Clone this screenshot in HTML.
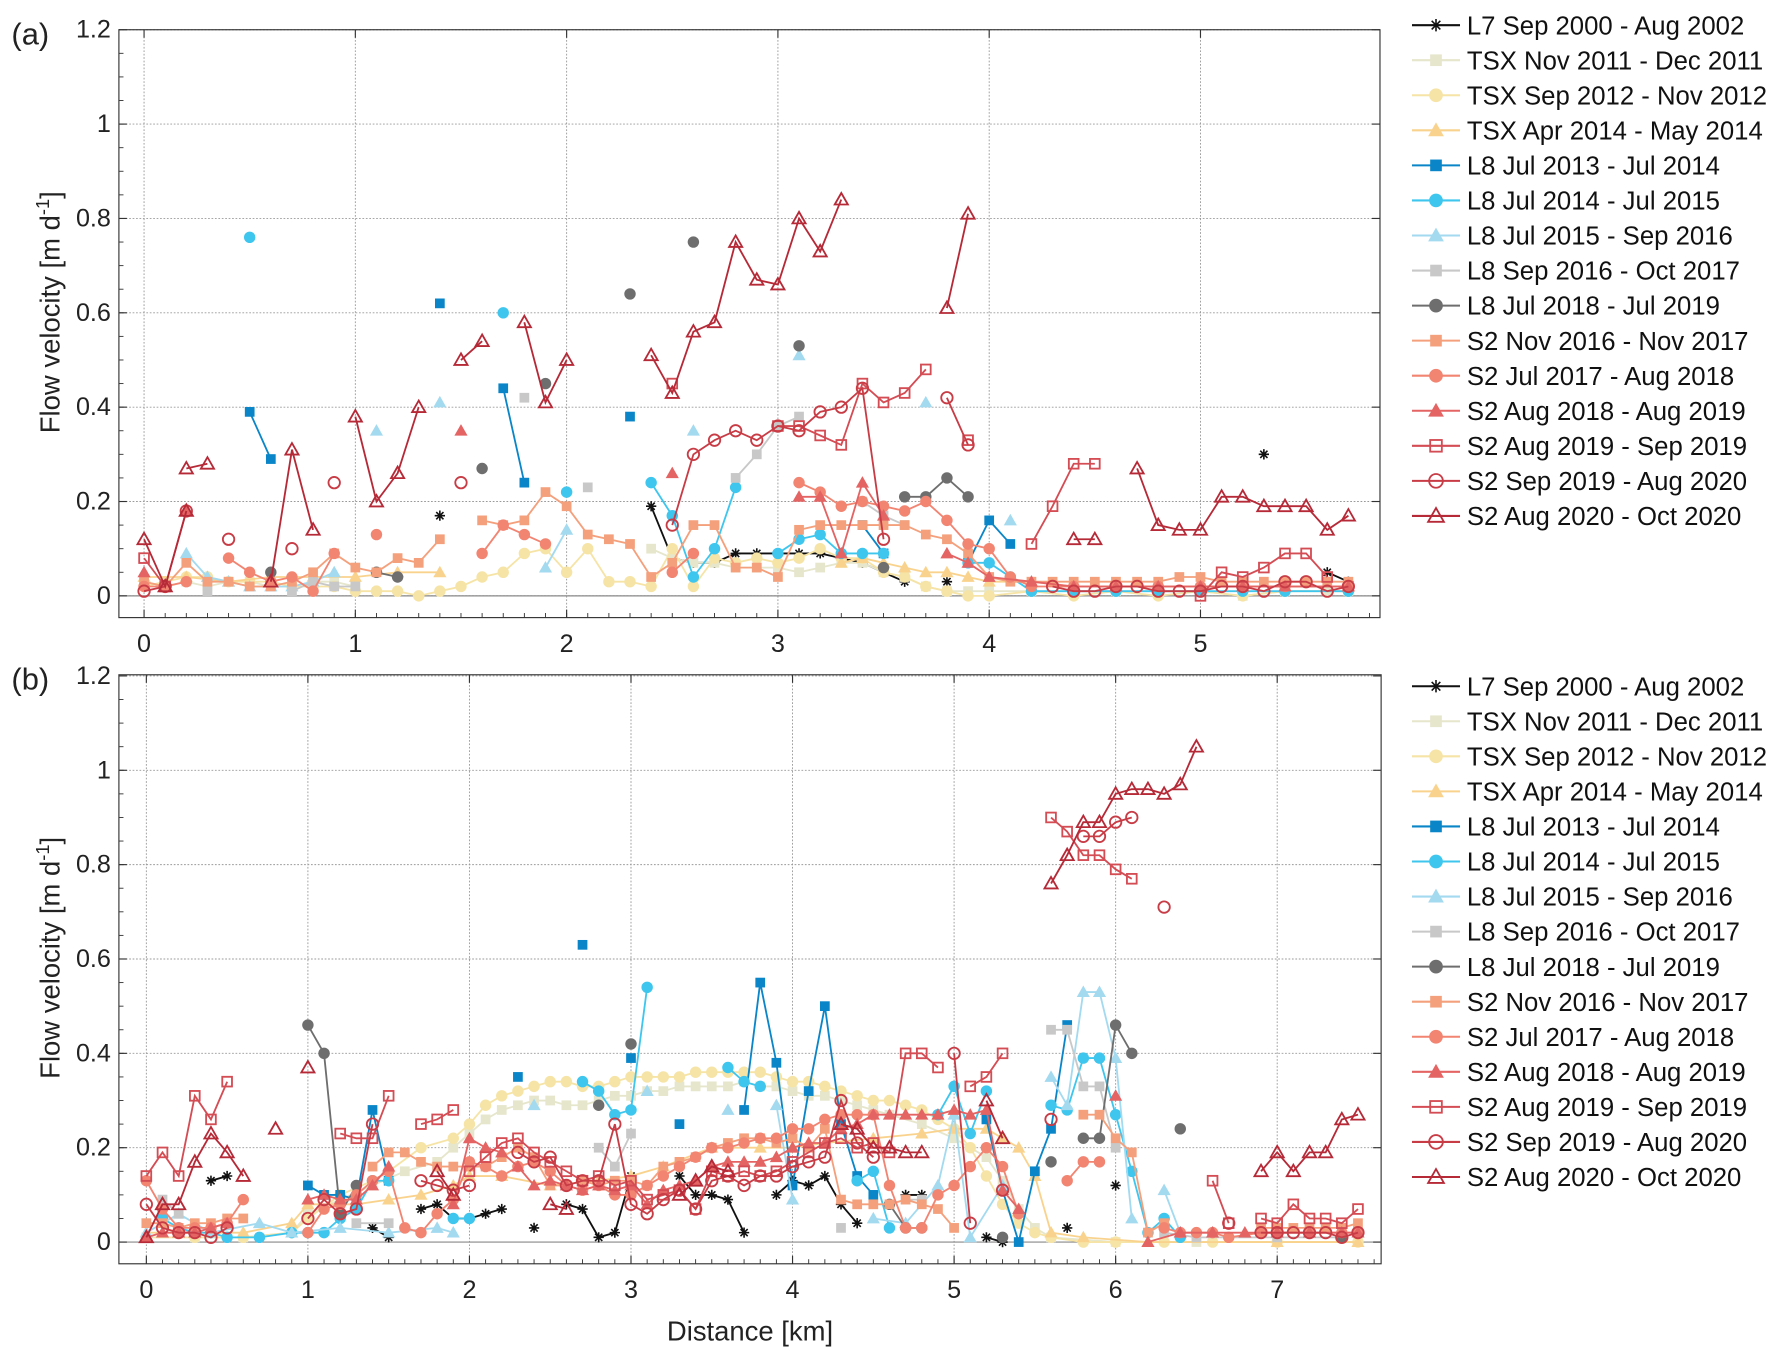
<!DOCTYPE html>
<html><head><meta charset="utf-8"><style>
html,body{margin:0;padding:0;background:#fff;}
svg{display:block;font-family:"Liberation Sans",Arial,sans-serif;}
</style></head><body>
<svg id="chart" width="1787" height="1361" viewBox="0 0 1563 1190" preserveAspectRatio="none" xmlns="http://www.w3.org/2000/svg"></svg>
<script>
// ---------- data (x km, y m/d; null = gap) ----------
const seriesNames = ["L7 Sep 2000 - Aug 2002","TSX Nov 2011 - Dec 2011","TSX Sep 2012 - Nov 2012","TSX Apr 2014 - May 2014","L8 Jul 2013 - Jul 2014","L8 Jul 2014 - Jul 2015","L8 Jul 2015 - Sep 2016","L8 Sep 2016 - Oct 2017","L8 Jul 2018 - Jul 2019","S2 Nov 2016 - Nov 2017","S2 Jul 2017 - Aug 2018","S2 Aug 2018 - Aug 2019","S2 Aug 2019 - Sep 2019","S2 Sep 2019 - Aug 2020","S2 Aug 2020 - Oct 2020"];
const seriesColors = ["#111111","#e6e6cc","#f6e4a6","#f9d38e","#0a86c8","#3ec6ee","#a3daf0","#c8c8c8","#6e6e6e","#f4a07c","#f28472","#e46464","#d44c54","#c83c46","#b62a38"];
const seriesMarkers = ["star","sq","ci","tr","sq","ci","tr","sq","ci","sq","ci","tr","osq","oci","otr"];

// Panel (a)
const a_L7 = [[1.4,0.17],null,[2.4,0.19],[2.5,0.08],[2.6,0.07],[2.7,0.07],[2.8,0.09],[2.9,0.09],[3.0,0.09],[3.1,0.09],[3.2,0.09],[3.3,0.08],[3.4,0.07],[3.5,0.05],[3.6,0.03],null,[3.8,0.03],null,[5.3,0.30],null,[5.6,0.05],[5.7,0.03]];
const a_TSX11 = [[0,0.03],[0.1,0.02],[0.2,0.03],[0.3,0.02],[0.4,0.03],[0.5,0.03],[0.6,0.02],[0.7,0.02],[0.8,0.03],[0.9,0.03],[1.0,0.02],null,[2.4,0.1],[2.5,0.08],[2.6,0.07],[2.7,0.07],[2.8,0.06],[2.9,0.06],[3.0,0.06],[3.1,0.05],[3.2,0.06],[3.3,0.07],[3.4,0.07],[3.5,0.05],[3.6,0.04],[3.7,0.02],[3.8,0.01],[3.9,0.01],[4.0,0.01],[4.2,0.01],[4.4,0.01],[4.6,0.01],[4.8,0.01],[5.0,0.01],[5.2,0.0],[5.4,0.01],[5.6,0.01],[5.7,0.01]];
const a_TSX12 = [[0,0.02],[0.1,0.03],[0.2,0.04],[0.3,0.04],[0.4,0.03],[0.5,0.03],[0.6,0.03],[0.7,0.02],[0.8,0.02],[0.9,0.02],[1.0,0.01],[1.1,0.01],[1.2,0.01],[1.3,0.0],[1.4,0.01],[1.5,0.02],[1.6,0.04],[1.7,0.05],[1.8,0.09],[1.9,0.10],[2.0,0.05],[2.1,0.10],[2.2,0.03],[2.3,0.03],[2.4,0.02],[2.5,0.10],[2.6,0.02],[2.7,0.08],[2.8,0.07],[2.9,0.08],[3.0,0.07],[3.1,0.08],[3.2,0.10],[3.3,0.08],[3.4,0.08],[3.5,0.05],[3.6,0.04],[3.7,0.02],[3.8,0.01],[3.9,0.0],[4.0,0.0],[4.2,0.01],[4.4,0.0],[4.6,0.01],[4.8,0.0],[5.0,0.01],[5.2,0.0],[5.4,0.01],[5.7,0.01]];
const a_TSX14 = [[0,0.04],[0.2,0.04],[0.4,0.03],[0.6,0.04],[0.8,0.04],[1.0,0.04],[1.2,0.05],[1.4,0.05],null,[3.3,0.07],[3.4,0.08],[3.5,0.07],[3.6,0.06],[3.7,0.05],[3.8,0.05],[3.9,0.04],[4.0,0.03],[4.2,0.03],[4.4,0.02],[4.6,0.02],[4.8,0.02],[5.0,0.02],[5.2,0.02],[5.4,0.02],[5.7,0.02]];
const a_L8_13 = [[0.5,0.39],[0.6,0.29],null,[1.4,0.62],null,[1.7,0.44],[1.8,0.24],null,[2.3,0.38],null,[3.4,0.15],[3.5,0.09],null,[3.9,0.07],[4.0,0.16],[4.1,0.11]];
const a_L8_14 = [[0.5,0.76],null,[1.7,0.60],null,[2.0,0.22],null,[2.4,0.24],[2.5,0.17],[2.6,0.04],[2.7,0.10],[2.8,0.23],null,[3.0,0.09],[3.1,0.12],[3.2,0.13],[3.3,0.09],[3.4,0.09],[3.5,0.09],null,[3.9,0.07],[4.0,0.07],[4.1,0.04],[4.2,0.01],[4.4,0.01],[4.6,0.01],[4.8,0.01],[5.0,0.01],[5.2,0.01],[5.4,0.01],[5.7,0.01]];
const a_L8_15 = [[0.2,0.09],[0.3,0.04],[0.4,0.03],[0.5,0.02],[0.6,0.02],[0.7,0.02],[0.8,0.03],[0.9,0.05],null,[1.1,0.35],null,[1.4,0.41],null,[1.9,0.06],[2.0,0.14],null,[2.6,0.35],null,[3.1,0.51],null,[3.7,0.41],null,[4.1,0.16]];
const a_L8_16 = [[0.3,0.01],null,[0.7,0.01],[0.8,0.03],[0.9,0.02],[1.0,0.02],null,[1.8,0.42],null,[2.1,0.23],null,[2.8,0.25],[2.9,0.30],[3.0,0.36],[3.1,0.38],null,[3.4,0.20],[3.5,0.17],[3.6,0.15]];
const a_L8_18 = [[0.6,0.05],null,[1.1,0.05],[1.2,0.04],null,[1.6,0.27],null,[1.9,0.45],null,[2.3,0.64],null,[2.6,0.75],null,[3.1,0.53],null,[3.5,0.06],null,[3.6,0.21],[3.7,0.21],[3.8,0.25],[3.9,0.21]];
const a_S2_16 = [[0,0.03],[0.1,0.02],[0.2,0.07],[0.3,0.03],[0.4,0.03],[0.5,0.02],[0.6,0.02],[0.7,0.03],[0.8,0.05],[0.9,0.09],[1.0,0.06],[1.1,0.05],[1.2,0.08],[1.3,0.07],[1.4,0.12],null,[1.6,0.16],[1.7,0.15],[1.8,0.16],[1.9,0.22],[2.0,0.19],[2.1,0.13],[2.2,0.12],[2.3,0.11],[2.4,0.04],[2.5,0.07],[2.6,0.15],[2.7,0.15],[2.8,0.06],[2.9,0.06],[3.0,0.04],[3.1,0.14],[3.2,0.15],[3.3,0.15],[3.4,0.15],[3.5,0.15],[3.6,0.15],[3.7,0.13],[3.8,0.12],[3.9,0.09],[4.0,0.04],[4.1,0.03],[4.2,0.03],[4.3,0.03],[4.4,0.03],[4.5,0.03],[4.6,0.03],[4.7,0.03],[4.8,0.03],[4.9,0.04],[5.0,0.04],[5.1,0.03],[5.2,0.03],[5.3,0.03],[5.4,0.03],[5.5,0.03],[5.6,0.03],[5.7,0.03]];
const a_S2_17 = [[0,0.02],[0.1,0.02],[0.2,0.03],null,[0.4,0.08],[0.5,0.05],[0.6,0.03],[0.7,0.04],[0.8,0.01],[0.9,0.09],null,[1.1,0.13],null,[1.6,0.09],[1.7,0.15],[1.8,0.13],[1.9,0.11],null,[2.5,0.05],[2.6,0.09],null,[3.1,0.24],[3.2,0.22],[3.3,0.19],[3.4,0.20],[3.5,0.19],[3.6,0.18],[3.7,0.20],[3.8,0.16],[3.9,0.11],[4.0,0.10],[4.1,0.04],[4.2,0.02],[4.4,0.02],[4.6,0.02],[4.8,0.02],[5.0,0.02],[5.2,0.02],[5.4,0.02],[5.7,0.02]];
const a_S2_18 = [[0,0.05],null,[0.2,0.18],null,[1.5,0.35],null,[2.5,0.26],null,[3.1,0.21],[3.2,0.21],[3.3,0.09],[3.4,0.24],[3.5,0.17],null,[3.8,0.09],[3.9,0.07],[4.0,0.04],[4.2,0.03],[4.4,0.02],[4.6,0.02],[4.8,0.02],[5.0,0.02],[5.2,0.02],[5.4,0.02],[5.7,0.02]];
const a_S2_19a = [[0,0.08],[0.1,0.02],null,[2.5,0.45],null,[3.0,0.36],[3.1,0.36],[3.2,0.34],[3.3,0.32],[3.4,0.45],[3.5,0.41],[3.6,0.43],[3.7,0.48],null,[3.9,0.33],null,[4.2,0.11],[4.3,0.19],[4.4,0.28],[4.5,0.28],null,[5.0,0.0],[5.1,0.05],[5.2,0.04],[5.3,0.06],[5.4,0.09],[5.5,0.09],[5.6,0.04]];
const a_S2_19b = [[0,0.01],[0.1,0.02],[0.2,0.18],null,[0.4,0.12],null,[0.7,0.10],null,[0.9,0.24],null,[1.5,0.24],null,[2.5,0.15],[2.6,0.30],[2.7,0.33],[2.8,0.35],[2.9,0.33],[3.0,0.36],[3.1,0.35],[3.2,0.39],[3.3,0.40],[3.4,0.44],[3.5,0.12],null,[3.8,0.42],[3.9,0.32],null,[4.3,0.02],[4.4,0.01],[4.5,0.01],[4.6,0.02],[4.7,0.02],[4.8,0.01],[4.9,0.01],[5.0,0.01],[5.1,0.02],[5.2,0.02],[5.3,0.01],[5.4,0.03],[5.5,0.03],[5.6,0.01],[5.7,0.02]];
const a_S2_20 = [[0,0.12],[0.1,0.02],[0.2,0.18],null,[0.2,0.27],[0.3,0.28],null,[0.6,0.03],[0.7,0.31],[0.8,0.14],null,[1.0,0.38],[1.1,0.20],[1.2,0.26],[1.3,0.40],null,[1.5,0.50],[1.6,0.54],null,[1.8,0.58],[1.9,0.41],[2.0,0.50],null,[2.4,0.51],[2.5,0.43],[2.6,0.56],[2.7,0.58],[2.8,0.75],[2.9,0.67],[3.0,0.66],[3.1,0.80],[3.2,0.73],[3.3,0.84],null,[3.8,0.61],[3.9,0.81],null,[4.4,0.12],[4.5,0.12],null,[4.7,0.27],[4.8,0.15],[4.9,0.14],[5.0,0.14],[5.1,0.21],[5.2,0.21],[5.3,0.19],[5.4,0.19],[5.5,0.19],[5.6,0.14],[5.7,0.17]];

// Panel (b)
const b_L7 = [[0.4,0.13],[0.5,0.14],null,[1.4,0.03],[1.5,0.01],null,[1.7,0.07],[1.8,0.08],[1.9,0.05],[2.0,0.05],[2.1,0.06],[2.2,0.07],null,[2.4,0.03],null,[2.6,0.08],[2.7,0.07],[2.8,0.01],[2.9,0.02],[3.0,0.14],null,[3.3,0.14],[3.4,0.10],[3.5,0.10],[3.6,0.09],[3.7,0.02],null,[3.9,0.10],[4.0,0.13],[4.1,0.12],[4.2,0.14],[4.3,0.08],[4.4,0.04],null,[4.7,0.10],[4.8,0.10],null,[5.2,0.01],[5.3,0.0],null,[5.7,0.03],null,[6.0,0.12]];
const b_TSX11 = [[0,0.01],[0.3,0.01],[0.6,0.01],[0.9,0.02],[1.0,0.06],[1.2,0.09],[1.4,0.12],[1.6,0.15],[1.8,0.17],[1.9,0.2],[2.0,0.23],[2.1,0.26],[2.2,0.28],[2.3,0.29],[2.4,0.3],[2.5,0.3],[2.6,0.29],[2.7,0.29],[2.8,0.3],[2.9,0.31],[3.0,0.31],[3.1,0.32],[3.2,0.32],[3.3,0.33],[3.4,0.33],[3.5,0.33],[3.6,0.33],[3.7,0.34],[3.8,0.33],[3.9,0.33],[4.0,0.32],[4.1,0.31],[4.2,0.31],[4.3,0.3],[4.4,0.29],[4.5,0.28],[4.6,0.27],[4.8,0.25],[5.0,0.22],[5.2,0.18],[5.3,0.13],[5.4,0.07],[5.5,0.03],[5.6,0.01],[6.0,0.0],[6.5,0.0],[7.0,0.0],[7.5,0.0]];
const b_TSX12 = [[0,0.01],[0.3,0.01],[0.6,0.01],[0.9,0.02],[1.0,0.05],[1.2,0.1],[1.4,0.13],[1.5,0.15],[1.7,0.20],[1.9,0.22],[2.0,0.25],[2.1,0.29],[2.2,0.31],[2.3,0.32],[2.4,0.33],[2.5,0.34],[2.6,0.34],[2.7,0.33],[2.8,0.33],[2.9,0.34],[3.0,0.35],[3.1,0.35],[3.2,0.35],[3.3,0.35],[3.4,0.36],[3.5,0.36],[3.6,0.36],[3.7,0.36],[3.8,0.36],[3.9,0.35],[4.0,0.34],[4.1,0.34],[4.2,0.33],[4.3,0.32],[4.4,0.31],[4.5,0.30],[4.6,0.30],[4.7,0.29],[4.8,0.28],[4.9,0.26],[5.0,0.24],[5.1,0.20],[5.2,0.14],[5.3,0.08],[5.4,0.04],[5.5,0.02],[5.6,0.01],[5.8,0.0],[6.0,0.0],[6.3,0.0],[6.6,0.0],[7.0,0.0],[7.5,0.0]];
const b_TSX14 = [[0,0.02],[0.3,0.02],[0.6,0.02],[0.9,0.04],[1.0,0.08],[1.3,0.08],[1.5,0.09],[1.7,0.10],[1.9,0.12],[2.0,0.14],[2.2,0.14],[2.5,0.12],[2.8,0.13],[3.0,0.14],[3.2,0.16],[3.5,0.20],[3.8,0.20],[4.0,0.20],[4.2,0.21],[4.5,0.22],[4.8,0.23],[5.0,0.24],[5.2,0.24],[5.3,0.22],[5.4,0.20],[5.5,0.14],[5.6,0.02],[5.8,0.01],[6.2,0.0],[7.0,0.0],[7.5,0.0]];
const b_L8_13 = [[1.0,0.12],[1.1,0.10],[1.2,0.10],[1.3,0.09],[1.4,0.28],[1.5,0.13],null,[2.3,0.35],null,[2.7,0.63],null,[3.0,0.39],null,[3.3,0.25],null,[3.7,0.28],[3.8,0.55],[3.9,0.38],[4.0,0.12],[4.1,0.32],[4.2,0.50],[4.3,0.25],[4.4,0.14],[4.5,0.10],null,[5.2,0.26],[5.3,0.11],[5.4,0.0],[5.5,0.15],[5.6,0.24],[5.7,0.46]];
const b_L8_14 = [[0.1,0.05],[0.2,0.03],[0.3,0.02],[0.4,0.02],[0.5,0.01],[0.7,0.01],[0.9,0.02],[1.0,0.02],[1.1,0.02],[1.2,0.05],[1.3,0.07],[1.4,0.13],[1.5,0.13],null,[1.9,0.05],[2.0,0.05],null,[2.7,0.34],[2.8,0.32],[2.9,0.27],[3.0,0.28],[3.1,0.54],null,[3.6,0.37],[3.7,0.34],[3.8,0.33],null,[4.4,0.13],[4.5,0.15],[4.6,0.03],null,[4.9,0.27],[5.0,0.33],[5.1,0.23],[5.2,0.32],null,[5.6,0.29],[5.7,0.28],[5.8,0.39],[5.9,0.39],[6.0,0.27],[6.1,0.15],[6.2,0.02],[6.3,0.05],[6.4,0.01]];
const b_L8_15 = [[0,0.02],[0.2,0.06],[0.4,0.02],[0.7,0.04],[0.9,0.02],[1.2,0.03],[1.5,0.02],[1.8,0.03],[1.9,0.02],null,[2.4,0.29],null,[3.1,0.32],null,[3.6,0.28],null,[3.9,0.29],[4.0,0.09],null,[4.5,0.05],[4.7,0.04],[4.9,0.12],[5.0,0.27],[5.1,0.01],[5.3,0.12],null,[5.6,0.35],[5.7,0.29],[5.8,0.53],[5.9,0.53],[6.0,0.39],[6.1,0.05],null,[6.3,0.11],[6.4,0.02]];
const b_L8_16 = [[0.1,0.09],[0.2,0.06],null,[1.3,0.04],[1.5,0.04],null,[2.8,0.20],[2.9,0.16],[3.0,0.23],null,[4.3,0.03],null,[4.7,0.09],[4.8,0.09],null,[5.6,0.45],[5.7,0.45],[5.8,0.33],[5.9,0.33],[6.0,0.20],null,[6.3,0.02],[6.5,0.01],[7.0,0.01],[7.4,0.01]];
const b_L8_18 = [[1.0,0.46],[1.1,0.40],[1.2,0.06],[1.3,0.12],null,[2.8,0.29],null,[3.0,0.42],null,[4.6,0.08],[4.7,0.03],[4.8,0.03],null,[5.3,0.01],null,[5.6,0.17],null,[5.8,0.22],[5.9,0.22],[6.0,0.46],[6.1,0.40],null,[6.4,0.24],null,[7.4,0.01]];
const b_S2_16 = [[0,0.04],[0.1,0.04],[0.2,0.03],[0.3,0.04],[0.4,0.04],[0.5,0.05],[0.6,0.05],null,[1.4,0.16],[1.5,0.19],[1.6,0.19],[1.7,0.17],[1.8,0.16],[1.9,0.16],[2.0,0.16],[2.1,0.16],[2.2,0.18],[2.3,0.20],[2.4,0.18],[2.5,0.12],[2.6,0.12],[2.7,0.13],[2.8,0.12],[2.9,0.13],[3.0,0.13],[3.1,0.12],[3.2,0.16],[3.3,0.17],[3.4,0.18],[3.5,0.20],[3.6,0.21],[3.7,0.22],[3.8,0.22],[3.9,0.21],[4.0,0.22],[4.1,0.20],[4.2,0.24],[4.3,0.09],[4.4,0.08],[4.5,0.08],[4.6,0.08],[4.7,0.09],[4.8,0.08],[4.9,0.07],[5.0,0.03],null,[5.8,0.27],[5.9,0.27],[6.0,0.22],[6.1,0.19],[6.2,0.02],[6.3,0.04],null,[6.9,0.03],[7.0,0.03],[7.1,0.03],[7.2,0.03],[7.3,0.03],[7.4,0.03],[7.5,0.04]];
const b_S2_17 = [[0,0.13],[0.1,0.07],[0.2,0.03],[0.3,0.03],[0.4,0.03],[0.5,0.04],[0.6,0.09],null,[1.0,0.02],[1.1,0.07],[1.2,0.08],[1.3,0.1],[1.4,0.13],[1.5,0.15],[1.6,0.03],[1.7,0.02],[1.8,0.06],[1.9,0.09],[2.0,0.17],[2.1,0.16],[2.2,0.14],[2.3,0.16],[2.4,0.17],[2.5,0.15],[2.6,0.12],[2.7,0.11],[2.8,0.12],[2.9,0.10],[3.0,0.10],[3.1,0.12],[3.2,0.14],[3.3,0.16],[3.4,0.18],[3.5,0.20],[3.6,0.20],[3.7,0.21],[3.8,0.22],[3.9,0.22],[4.0,0.24],[4.1,0.24],[4.2,0.26],[4.3,0.27],[4.4,0.27],[4.5,0.27],[4.6,0.12],[4.7,0.03],[4.8,0.03],[4.9,0.10],[5.0,0.12],[5.1,0.16],[5.2,0.20],[5.3,0.16],[5.4,0.06],null,[5.7,0.13],[5.8,0.17],[5.9,0.17],null,[6.3,0.03],[6.4,0.02],[6.5,0.02],[6.6,0.02],[6.7,0.01],[6.9,0.02],[7.0,0.02],[7.2,0.02],[7.4,0.02],[7.5,0.02]];
const b_S2_18 = [[0,0.01],[0.1,0.02],[0.2,0.02],[0.3,0.02],[0.4,0.03],[0.5,0.04],null,[1.0,0.09],[1.1,0.1],[1.2,0.09],[1.3,0.09],[1.4,0.12],[1.5,0.16],null,[1.9,0.08],[2.0,0.22],[2.1,0.2],[2.2,0.19],[2.3,0.16],[2.4,0.12],[2.5,0.13],[2.6,0.12],[2.7,0.11],[2.8,0.12],[2.9,0.11],[3.0,0.12],[3.1,0.08],[3.2,0.11],[3.3,0.12],[3.4,0.13],[3.5,0.16],[3.6,0.17],[3.7,0.17],[3.8,0.17],[3.9,0.18],[4.0,0.2],[4.1,0.21],[4.2,0.21],[4.3,0.24],[4.4,0.25],[4.5,0.27],[4.6,0.27],[4.7,0.27],[4.8,0.27],[4.9,0.27],[5.0,0.28],[5.1,0.27],[5.2,0.28],[5.3,0.11],[5.4,0.07],null,[6.0,0.31],null,[6.2,0.0],[6.4,0.02],[6.6,0.02],[6.8,0.02],[7.0,0.02],[7.2,0.02],[7.4,0.02],[7.5,0.02]];
const b_S2_19a = [[0,0.14],[0.1,0.19],[0.2,0.14],[0.3,0.31],[0.4,0.26],[0.5,0.34],null,[1.2,0.23],[1.3,0.22],[1.4,0.22],[1.5,0.31],null,[1.7,0.25],[1.8,0.26],[1.9,0.28],null,[2.0,0.15],[2.1,0.18],[2.2,0.21],[2.3,0.22],[2.4,0.19],[2.5,0.17],[2.6,0.15],[2.7,0.13],[2.8,0.14],[2.9,0.12],[3.0,0.13],[3.1,0.09],[3.2,0.10],[3.3,0.11],[3.4,0.07],[3.5,0.15],[3.6,0.14],[3.7,0.15],[3.8,0.14],[3.9,0.15],[4.0,0.17],[4.1,0.19],[4.2,0.21],[4.3,0.22],[4.4,0.20],[4.5,0.21],[4.6,0.19],[4.7,0.40],[4.8,0.40],[4.9,0.37],null,[5.1,0.33],[5.2,0.35],[5.3,0.40],null,[5.6,0.90],[5.7,0.87],[5.8,0.82],[5.9,0.82],[6.0,0.79],[6.1,0.77],null,[6.6,0.13],[6.7,0.04],null,[6.9,0.05],[7.0,0.04],[7.1,0.08],[7.2,0.05],[7.3,0.05],[7.4,0.04],[7.5,0.07]];
const b_S2_19b = [[0,0.08],[0.1,0.03],[0.2,0.02],[0.3,0.02],[0.4,0.01],[0.5,0.03],null,[1.0,0.05],[1.1,0.09],[1.2,0.06],[1.3,0.07],[1.4,0.25],null,[1.7,0.13],[1.8,0.12],[1.9,0.11],[2.0,0.12],null,[2.3,0.19],[2.4,0.17],[2.5,0.18],[2.6,0.12],[2.7,0.13],[2.8,0.13],[2.9,0.25],[3.0,0.08],[3.1,0.06],[3.2,0.09],[3.3,0.11],[3.4,0.07],[3.5,0.13],[3.6,0.14],[3.7,0.12],[3.8,0.14],[3.9,0.14],[4.0,0.16],[4.1,0.17],[4.2,0.18],[4.3,0.30],[4.4,0.21],[4.5,0.18],null,[5.0,0.40],[5.1,0.04],null,[5.3,0.11],null,[5.6,0.26],null,[5.8,0.86],[5.9,0.86],[6.0,0.89],[6.1,0.90],null,[6.3,0.71],null,[6.7,0.04],null,[6.9,0.02],[7.0,0.02],[7.1,0.02],[7.2,0.02],[7.3,0.02],[7.4,0.01],[7.5,0.02]];
const b_S2_20 = [[0,0.01],[0.1,0.08],[0.2,0.08],[0.3,0.17],[0.4,0.23],[0.5,0.19],[0.6,0.14],null,[0.8,0.24],null,[1.0,0.37],null,[1.8,0.15],[1.9,0.10],null,[2.5,0.08],[2.6,0.07],null,[3.3,0.10],[3.4,0.13],[3.5,0.16],[3.6,0.15],null,[4.3,0.25],[4.4,0.24],[4.5,0.20],[4.6,0.20],[4.7,0.19],[4.8,0.19],null,[5.2,0.30],[5.3,0.22],null,[5.6,0.76],[5.7,0.82],[5.8,0.89],[5.9,0.89],[6.0,0.95],[6.1,0.96],[6.2,0.96],[6.3,0.95],[6.4,0.97],[6.5,1.05],null,[6.9,0.15],[7.0,0.19],[7.1,0.15],[7.2,0.19],[7.3,0.19],[7.4,0.26],[7.5,0.27]];

const panelAData = [a_L7,a_TSX11,a_TSX12,a_TSX14,a_L8_13,a_L8_14,a_L8_15,a_L8_16,a_L8_18,a_S2_16,a_S2_17,a_S2_18,a_S2_19a,a_S2_19b,a_S2_20];
const panelBData = [b_L7,b_TSX11,b_TSX12,b_TSX14,b_L8_13,b_L8_14,b_L8_15,b_L8_16,b_L8_18,b_S2_16,b_S2_17,b_S2_18,b_S2_19a,b_S2_19b,b_S2_20];
const yTicks = [0,0.2,0.4,0.6,0.8,1,1.2];
const yTickLabels = ["0","0.2","0.4","0.6","0.8","1","1.2"];
const xTicksA = [0,1,2,3,4,5];
const xTicksB = [0,1,2,3,4,5,6,7];

// ---------- drawing ----------
const NS="http://www.w3.org/2000/svg";
const svg=document.getElementById('chart');
function el(tag,attrs,parent){const e=document.createElementNS(NS,tag);for(const k in attrs)e.setAttribute(k,attrs[k]);(parent||svg).appendChild(e);return e;}

function marker(g,type,cx,cy,col,s){
  let m;
  if(type==='sq'||type==='osq'){m=el('rect',{x:cx-s*0.85,y:cy-s*0.85,width:s*1.7,height:s*1.7,fill:type==='sq'?col:'#fff','fill-opacity':type==='sq'?1:0,stroke:col,'stroke-width':type==='sq'?0:1.6},g);}
  else if(type==='ci'||type==='oci'){m=el('circle',{cx:cx,cy:cy,r:s,fill:type==='ci'?col:'none',stroke:col,'stroke-width':type==='ci'?0:1.6},g);}
  else if(type==='tr'||type==='otr'){const h=s*1.15;m=el('polygon',{points:`${cx},${cy-h} ${cx-h},${cy+h*0.75} ${cx+h},${cy+h*0.75}`,fill:type==='tr'?col:'none',stroke:col,'stroke-width':type==='tr'?0:1.6},g);}
  else {const r=s*0.9;m=el('path',{d:`M${cx-r},${cy}H${cx+r}M${cx},${cy-r}V${cy+r}M${cx-r*0.7},${cy-r*0.7}L${cx+r*0.7},${cy+r*0.7}M${cx-r*0.7},${cy+r*0.7}L${cx+r*0.7},${cy-r*0.7}`,stroke:col,'stroke-width':1.4,fill:'none'},g);}
  return m;
}

function drawPanel(cfg){
  const {L,R,T,B,x0px,xPerKm,y0px,xTicks,data,label,name,xlim}=cfg;
  const g=el('g',{});
  
  
  const xs=v=>x0px+v*xPerKm;
  const ys=v=>y0px-v*495/1.2;
  el('rect',{x:L,y:T,width:R-L,height:B-T,fill:'#fff',stroke:'none'},g);
  const grid=el('g',{},g);
  
  
  xTicks.forEach(t=>el('line',{x1:xs(t),x2:xs(t),y1:T,y2:B,stroke:'#999','stroke-width':0.8,'stroke-dasharray':'1.5,1.5'},grid));
  yTicks.forEach(t=>el('line',{x1:L,x2:R,y1:ys(t),y2:ys(t),stroke:'#999','stroke-width':0.8,'stroke-dasharray':'1.5,1.5'},grid));
  el('line',{x1:L,x2:R,y1:ys(0),y2:ys(0),stroke:'#888','stroke-width':1},grid);
  data.forEach((pts,i)=>{
    const sg=el('g',{},g);
    
    
    let d='',pen=false;
    pts.forEach(p=>{if(!p){pen=false;return;}d+=(pen?'L':'M')+xs(p[0]).toFixed(1)+','+ys(p[1]).toFixed(1);pen=true;});
    el('path',{d:d,fill:'none',stroke:seriesColors[i],'stroke-width':1.6},sg);
    pts.forEach(p=>{if(!p)return;const mk=marker(sg,seriesMarkers[i],xs(p[0]),ys(p[1]),seriesColors[i],5);
      
      });
  });
  el('rect',{x:L,y:T,width:R-L,height:B-T,fill:'none',stroke:'#333','stroke-width':1},g);
  yTicks.forEach((t,k)=>{
    el('line',{x1:L,x2:L+7,y1:ys(t),y2:ys(t),stroke:'#333','stroke-width':1},g);
    el('line',{x1:R,x2:R-7,y1:ys(t),y2:ys(t),stroke:'#333','stroke-width':1},g);
    const tx=el('text',{x:L-7,y:ys(t)+7,'text-anchor':'end','font-size':22,fill:'#222'},g);tx.textContent=yTickLabels[k];
    
    
  });
  for(let t=0.05;t<1.2;t+=0.05){el('line',{x1:L,x2:L+4,y1:ys(t),y2:ys(t),stroke:'#333','stroke-width':0.8},g);}
  xTicks.forEach(t=>{
    el('line',{x1:xs(t),x2:xs(t),y1:B,y2:B-7,stroke:'#333','stroke-width':1},g);
    el('line',{x1:xs(t),x2:xs(t),y1:T,y2:T+7,stroke:'#333','stroke-width':1},g);
    const tx=el('text',{x:xs(t),y:B+30,'text-anchor':'middle','font-size':22,fill:'#222'},g);tx.textContent=String(t);
    
    
  });
  for(let t=0.1;t<xlim;t+=0.1){el('line',{x1:xs(t),x2:xs(t),y1:B,y2:B-4,stroke:'#333','stroke-width':0.8},g);}
  const pl=el('text',{x:10,y:T+13,'font-size':27,fill:'#222'},g);pl.textContent=label;
  
  
  const yt=el('text',{x:0,y:0,'font-size':24,fill:'#222','text-anchor':'middle',transform:`translate(52,${(T+B)/2-10}) rotate(-90)`},g);
  yt.innerHTML='Flow velocity [m d<tspan dy="-9" font-size="16">-1</tspan><tspan dy="9">]</tspan>';
  
  
  const lg=el('g',{},g);
  
  
  seriesNames.forEach((n,i)=>{
    const y=cfg.legY+i*30.65;
    const eg=el('g',{},lg);
    
    
    el('line',{x1:1235,x2:1277,y1:y,y2:y,stroke:seriesColors[i],'stroke-width':1.8},eg);
    marker(eg,seriesMarkers[i],1256,y,seriesColors[i],6);
    const tx=el('text',{x:1283,y:y+8,'font-size':22.5,fill:'#111'},eg);tx.textContent=n;
  });
}

drawPanel({L:104,R:1207,T:26,B:540,x0px:126,xPerKm:184.8,y0px:521,xTicks:xTicksA,data:panelAData,label:'(a)',name:'panel-a',legY:22,xlim:5.85});
drawPanel({L:104,R:1208,T:590,B:1105,x0px:128,xPerKm:141.3,y0px:1086,xTicks:xTicksB,data:panelBData,label:'(b)',name:'panel-b',legY:600,xlim:7.6});
const xt=el('text',{x:656,y:1172,'text-anchor':'middle','font-size':24,fill:'#222'});
xt.textContent='Distance [km]';


</script>
</body></html>
